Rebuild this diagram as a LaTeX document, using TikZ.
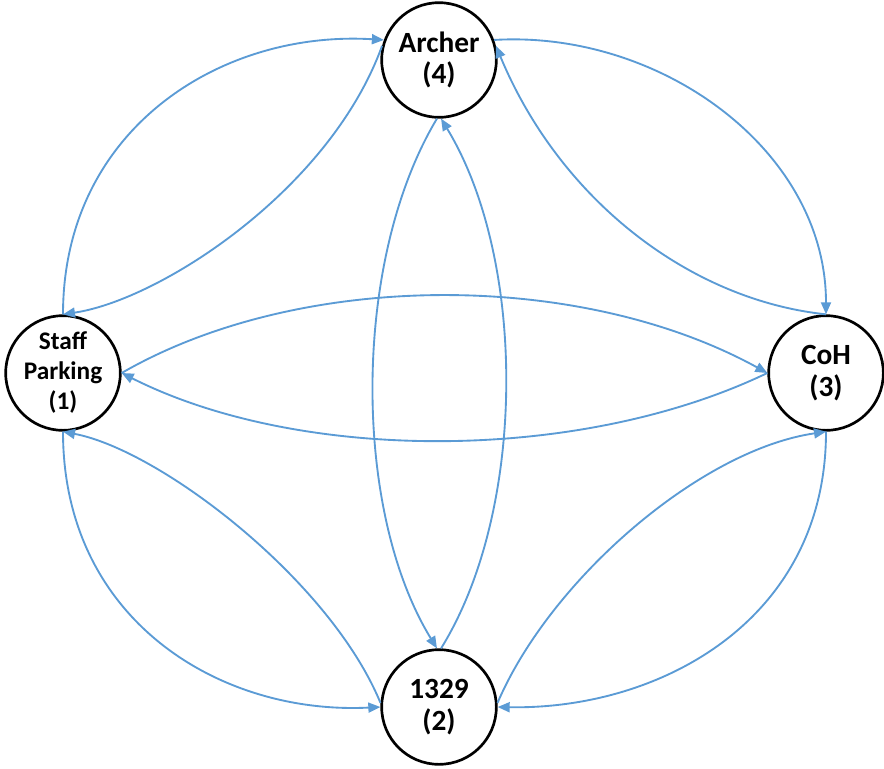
\documentclass[tikz,border=0pt]{standalone}
\usepackage{fontspec}
\setmainfont{Carlito}
\usetikzlibrary{arrows.meta}
\definecolor{edgeblue}{HTML}{5B9BD5}
\tikzset{
  place/.style={circle,draw=black,line width=2pt,fill=white,minimum size=86pt,inner sep=0pt,align=center,font=\fontsize{22}{23.5}\selectfont\bfseries},
  link/.style={draw=edgeblue,line width=1.4pt,-{Triangle[length=9pt,width=7.5pt]}}
}
\begin{document}
\begin{tikzpicture}[x=0.75pt,y=-0.75pt]
\useasboundingbox (0,0) rectangle (884,768);
\node[place] (A) at (439,60) {Archer\\(4)};
\node[place,font=\fontsize{19}{22.5}\selectfont\bfseries] (S) at (63,373) {Staff\\Parking\\(1)};
\node[place] (C) at (826,373) {CoH\\(3)};
\node[place] (N) at (439,707) {1329\\(2)};
% Staff Parking <-> Archer
\draw[link] (S.90) .. controls (63,130) and (220,30) .. (A.160);
\draw[link] (A.166) .. controls (330,190) and (160,300) .. (S.90);
% Archer <-> CoH
\draw[link] (A.20) .. controls (660,30) and (826,150) .. (C.90);
\draw[link] (C.90) .. controls (690,300) and (560,200) .. (A.14);
% Staff Parking <-> CoH
\draw[link] (S.0) .. controls (300,270) and (580,270) .. (C.180);
\draw[link] (C.180) .. controls (580,463) and (300,463) .. (S.0);
% Staff Parking <-> 1329
\draw[link] (S.270) .. controls (63,620) and (220,715) .. (N.180);
\draw[link] (N.176) .. controls (330,580) and (160,450) .. (S.270);
% CoH <-> 1329
\draw[link] (C.270) .. controls (826,620) and (660,710) .. (N.0);
\draw[link] (N.4) .. controls (550,580) and (700,450) .. (C.270);
% Archer <-> 1329
\draw[link] (A.268) .. controls (352,260) and (352,510) .. (N.92);
\draw[link] (N.88) .. controls (527,510) and (527,260) .. (A.272);
\end{tikzpicture}
\end{document}
